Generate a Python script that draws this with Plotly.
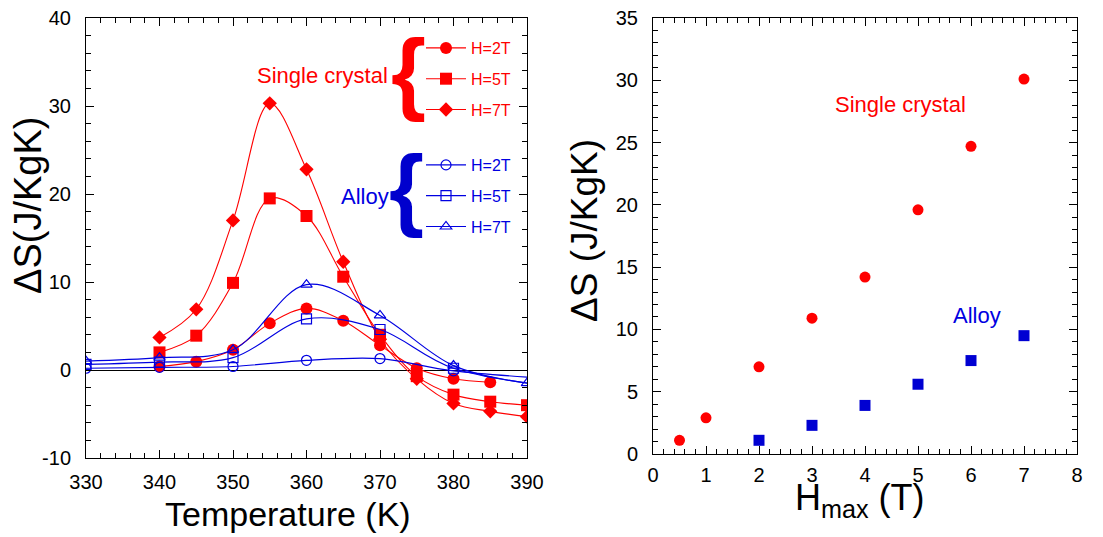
import plotly.graph_objects as go

# ---------------- data ----------------
# Left panel: Delta S vs temperature
T_sc = [340, 345, 350, 355, 360, 365, 370, 375, 380, 385, 390]
T_sc2 = [340, 345, 350, 355, 360, 365, 370, 375, 380, 385]
sc_2T = [0.4, 0.95, 2.3, 5.3, 7.0, 5.6, 2.8, 0.2, -1.0, -1.4]
sc_5T = [2.0, 3.9, 9.9, 19.5, 17.5, 10.6, 4.0, -0.7, -2.8, -3.6, -4.0]
sc_7T = [3.7, 6.9, 17.0, 30.3, 22.8, 12.3, 3.5, -1.0, -3.8, -4.7, -5.3]

T_al = [330, 340, 350, 360, 370, 380, 400]
T_al7 = [330, 340, 350, 360, 370, 380, 390]
al_2T = [0.2, 0.3, 0.4, 1.1, 1.3, -0.1, -1.3]
al_5T = [0.65, 0.9, 1.4, 5.8, 4.6, 0.2, -2.4]
al_7T = [1.0, 1.4, 2.3, 9.7, 6.2, 0.5, -1.5]

# Right panel: Delta S vs Hmax
H_sc = [0.5, 1, 2, 3, 4, 5, 6, 7]
dS_sc = [1.1, 2.9, 7.0, 10.9, 14.2, 19.6, 24.7, 30.1]
H_al = [2, 3, 4, 5, 6, 7]
dS_al = [1.1, 2.3, 3.9, 5.6, 7.5, 9.5]

legend_labels = ["H=2T", "H=5T", "H=7T"]
left_y_ticks = [-10, 0, 10, 20, 30, 40]
left_y_ticklabels = ["-10", "0", "10", "20", "30", "40"]

# ---------------- style ----------------
OFF = 8                      # page body margin
W, H = 1103 - OFF, 537 - OFF
RED = "#FF0000"
BLUE = "rgb(0,0,225)"
FONT = "Liberation Sans, Arial, sans-serif"


def px(x):
    return (x - OFF) / W


def py(y):
    return 1 - (y - OFF) / H


fig = go.Figure()

red_sets = [(T_sc2, sc_2T, "circle", 12), (T_sc, sc_5T, "square", 12), (T_sc, sc_7T, "diamond", 11)]
for i, (xs, ys, sym, sz) in enumerate(red_sets):
    fig.add_trace(go.Scatter(
        x=xs, y=ys, mode="lines+markers", name=legend_labels[i],
        line=dict(color=RED, width=1.1, shape="spline", smoothing=1),
        marker=dict(symbol=sym, size=sz, color=RED),
        legend="legend", legendgroup="r%d" % i,
        xaxis="x", yaxis="y"))

blue_sets = [(T_al, al_2T, "circle-open", 10), (T_al, al_5T, "square-open", 10), (T_al7, al_7T, "triangle-up-open", 10)]
for i, (xs, ys, sym, sz) in enumerate(blue_sets):
    fig.add_trace(go.Scatter(
        x=xs, y=ys, mode="lines+markers", name=legend_labels[i],
        line=dict(color=BLUE, width=1.2, shape="spline", smoothing=1),
        marker=dict(symbol=sym, size=sz, color=BLUE, line=dict(width=1.2, color=BLUE)),
        legend="legend2", legendgroup="b%d" % i,
        xaxis="x", yaxis="y"))

fig.add_trace(go.Scatter(x=H_sc, y=dS_sc, mode="markers",
                         marker=dict(symbol="circle", size=11, color=RED),
                         showlegend=False, xaxis="x2", yaxis="y2"))
fig.add_trace(go.Scatter(x=H_al, y=dS_al, mode="markers",
                         marker=dict(symbol="square", size=11, color="rgb(0,0,210)"),
                         showlegend=False, xaxis="x2", yaxis="y2"))

axis_common = dict(
    showline=True, linecolor="black", linewidth=1, mirror="allticks",
    ticks="inside", ticklen=8, tickwidth=1, tickcolor="black",
    showgrid=False, automargin=False, ticklabeloverflow="allow",
    tickfont=dict(family=FONT, size=20, color="black"),
)

fig.update_layout(
    width=W, height=H,
    margin=dict(l=0, r=0, t=0, b=0),
    paper_bgcolor="white", plot_bgcolor="white",
    font=dict(family=FONT, color="black"),
    xaxis=dict(domain=[px(86), px(527)], range=[330, 390], dtick=10, anchor="y",
               minor=dict(dtick=2, ticks="inside", ticklen=5, tickcolor="black"),
               ticklabelstandoff=6, zeroline=False, **axis_common),
    yaxis=dict(domain=[py(458), py(18)], range=[-10, 40], anchor="x",
               tickvals=left_y_ticks, ticktext=left_y_ticklabels,
               minor=dict(dtick=2, ticks="inside", ticklen=5, tickcolor="black"),
               ticklabelstandoff=10,
               zeroline=True, zerolinecolor="black", zerolinewidth=1, **axis_common),
    xaxis2=dict(domain=[px(653), px(1077)], range=[0, 8], dtick=1, anchor="y2",
                minor=dict(dtick=0.2, ticks="inside", ticklen=5, tickcolor="black"),
                ticklabelstandoff=3, zeroline=False, **axis_common),
    yaxis2=dict(domain=[py(454), py(18)], range=[0, 35], dtick=5, anchor="x2",
                minor=dict(dtick=1, ticks="inside", ticklen=5, tickcolor="black"),
                ticklabelstandoff=10, zeroline=False, **axis_common),
    legend=dict(x=px(421), y=py(31), xanchor="left", yanchor="top", itemwidth=40,
                bgcolor="rgba(0,0,0,0)", traceorder="grouped", tracegroupgap=7,
                font=dict(family=FONT, size=16, color=RED)),
    legend2=dict(x=px(421), y=py(148), xanchor="left", yanchor="top", itemwidth=40,
                 bgcolor="rgba(0,0,0,0)", traceorder="grouped", tracegroupgap=7,
                 font=dict(family=FONT, size=16, color=BLUE)),
)


def ann(text, x, y, size, color="black", angle=0, weight="normal"):
    fig.add_annotation(text=text, x=px(x), y=py(y), xref="paper", yref="paper",
                       xanchor="center", yanchor="middle", showarrow=False,
                       textangle=angle,
                       font=dict(family=FONT, size=size, color=color, weight=weight))


ann("ΔS(J/KgK)", 28, 206, 38, angle=-90)
ann("Temperature (K)", 288, 514, 34)
ann("ΔS (J/KgK)", 584, 231, 37, angle=-90)
ann("H<sub>max</sub> (T)", 860, 500, 36)

ann("Single crystal", 322, 75, 22, RED)
ann("Alloy", 365, 196, 22, BLUE)
ann("{", 408, 72, 90, RED, weight="bold")
ann("{", 406, 188, 90, "rgb(0,0,205)", weight="bold")

ann("Single crystal", 900, 105, 22, RED)
ann("Alloy", 977, 315, 22, BLUE)

fig.write_html("out.html")
